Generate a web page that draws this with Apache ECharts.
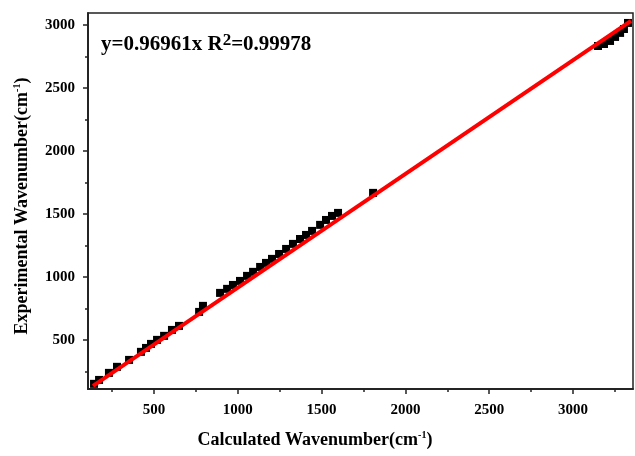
<!DOCTYPE html>
<html>
<head>
<meta charset="utf-8">
<script src="https://cdn.jsdelivr.net/npm/echarts@6/dist/echarts.min.js"></script>
<style>
html,body{margin:0;padding:0;background:#fff;}
#chart{width:635px;height:456px;}
</style>
</head>
<body>
<div id="chart"></div>
<script>
// Calculated wavenumbers (x) and experimental wavenumbers (y)
var calcX = [142,172,231,279,351,422,452,482,518,560,607,649,769,792,894,936,971,1013,1055,1091,1133,1168,1204,1246,1288,1329,1371,1407,1443,1491,1526,1562,1598,1807,3149,3185,3221,3251,3281,3304,3328];
var exptY = [151,182,238,286,341,405,436,468,500,532,579,611,722,770,873,905,936,968,1008,1040,1079,1111,1143,1182,1222,1262,1301,1333,1365,1413,1452,1484,1508,1667,2833,2849,2873,2905,2937,2968,3016];
// Fitted line end points as drawn
var fitX = [136, 3346];
var fitY = [135, 3032];
// Axis tick labels
var xLabels = [500,1000,1500,2000,2500,3000];
var xMinor = [250,750,1250,1750,2250,2750,3250];
var yLabels = [500,1000,1500,2000,2500,3000];
var yMinor = [250,750,1250,1750,2250,2750];
var xTitle = 'Calculated Wavenumber(cm';
var yTitle = 'Experimental Wavenumber(cm';
var supText = '-1';
var equation = 'y=0.96961x R';
var equation2 = '=0.99978';

var pts = calcX.map(function(x,i){return [x, exptY[i]];});
var fit = fitX.map(function(x,i){return [x, fitY[i]];});

var font = 'Liberation Serif';
var axisColor = '#222';
var XMIN = 106, XMAX = 3358, YMIN = 110, YMAX = 3095;

function mkAxisBase(extra){
  var o = {
    type:'value',
    splitLine:{show:false},
    axisLine:{show:true, onZero:false, lineStyle:{color:axisColor, width:1.5}}
  };
  for (var k in extra) o[k]=extra[k];
  return o;
}
function plain(v){ return String(v); }

var titleRich = {
  a:{fontFamily:font, fontWeight:'bold', fontSize:18, fill:'#000'},
  s:{fontFamily:font, fontWeight:'bold', fontSize:10, fill:'#000', padding:[0,0,10,0]}
};

var chart = echarts.init(document.getElementById('chart'), null, {renderer:'canvas'});
chart.setOption({
  animation:false,
  backgroundColor:'#fff',
  grid:{left:88, right:2, top:13, bottom:67, show:true, borderColor:axisColor, borderWidth:1.5, backgroundColor:'transparent'},
  xAxis:[
    mkAxisBase({min:XMIN, max:XMAX,
      axisTick:{show:true, length:5, customValues:xLabels, lineStyle:{color:axisColor, width:1.5}},
      axisLabel:{show:true, customValues:xLabels, formatter:plain, margin:14, fontFamily:font, fontWeight:'bold', fontSize:15, color:'#000'}
    }),
    mkAxisBase({min:XMIN, max:XMAX, position:'bottom',
      axisTick:{show:true, length:3, customValues:xMinor, lineStyle:{color:axisColor, width:1.5}},
      axisLabel:{show:false}
    })
  ],
  yAxis:[
    mkAxisBase({min:YMIN, max:YMAX,
      axisTick:{show:true, length:5, customValues:yLabels, lineStyle:{color:axisColor, width:1.5}},
      axisLabel:{show:true, customValues:yLabels, formatter:plain, margin:13, fontFamily:font, fontWeight:'bold', fontSize:15, color:'#000'}
    }),
    mkAxisBase({min:YMIN, max:YMAX, position:'left',
      axisTick:{show:true, length:3, customValues:yMinor, lineStyle:{color:axisColor, width:1.5}},
      axisLabel:{show:false}
    })
  ],
  series:[
    {type:'scatter', xAxisIndex:0, yAxisIndex:0, data:pts, symbol:'rect', symbolSize:8,
      itemStyle:{color:'#000', opacity:1}, z:2},
    {type:'line', xAxisIndex:0, yAxisIndex:0, data:fit, showSymbol:false, symbol:'none',
      lineStyle:{color:'#ff0000', width:4}, z:3}
  ],
  graphic:[
    {type:'text', left:101, top:32, z:10,
      style:{text:'{a|' + equation + '}{b|2}{a|' + equation2 + '}',
        rich:{
          a:{fontFamily:font, fontWeight:'bold', fontSize:21, fill:'#000'},
          b:{fontFamily:font, fontWeight:'bold', fontSize:17, fill:'#000', padding:[0,0,9,0]}
        }}},
    {type:'text', x:315, y:440, z:10,
      style:{text:'{a|' + xTitle + '}{s|' + supText + '}{a|)}', align:'center', verticalAlign:'middle', rich:titleRich}},
    {type:'text', x:22, y:206, rotation:Math.PI/2, z:10,
      style:{text:'{a|' + yTitle + '}{s|' + supText + '}{a|)}', align:'center', verticalAlign:'middle', rich:titleRich}}
  ]
});
</script>
</body>
</html>
